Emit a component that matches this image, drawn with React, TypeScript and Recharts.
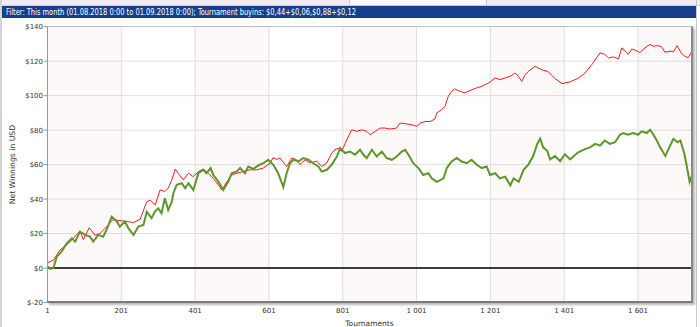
import React from 'react';
import { LineChart, Line, XAxis, YAxis, CartesianGrid, ReferenceArea, ReferenceLine } from 'recharts';

const W = 700;
const H = 327;

const headerText = 'Filter: This month (01.08.2018 0:00 to 01.09.2018 0:00); Tournament buyins: $0,44+$0,06,$0,88+$0,12';
const xAxisTitle = 'Tournaments';
const yAxisTitle = 'Net Winnings in USD';

const xTicks = [1, 201, 401, 601, 801, 1001, 1201, 1401, 1601];
const yTicks = [-20, 0, 20, 40, 60, 80, 100, 120, 140];
const bands = [[1, 201], [401, 601], [801, 1001], [1201, 1401], [1601, 1746]];

const redTournaments = [1, 17, 35, 53, 67, 89, 98, 114, 130, 143, 157, 178, 197, 216, 234, 252, 270, 279, 293, 306,
  319, 328, 338, 347, 355, 369, 383, 396, 410, 423, 437, 450, 464, 473, 487, 500, 514, 532, 550, 568,
  586, 604, 612, 622, 631, 649, 663, 676, 685, 699, 712, 731, 744, 758, 771, 780, 789, 798, 812, 825,
  839, 853, 866, 875, 889, 902, 916, 929, 947, 956, 970, 988, 1002, 1011, 1024, 1038, 1051, 1056, 1069, 1078,
  1087, 1096, 1105, 1119, 1132, 1146, 1164, 1178, 1187, 1200, 1214, 1227, 1241, 1255, 1268, 1277, 1286, 1295, 1304, 1322,
  1341, 1357, 1376, 1395, 1417, 1438, 1457, 1476, 1498, 1511, 1521, 1534, 1548, 1557, 1566, 1575, 1584, 1598, 1606, 1620,
  1633, 1642, 1656, 1665, 1674, 1688, 1697, 1707, 1719, 1728, 1737, 1746];

const redWinnings = [3, 4.6, 10.5, 13.4, 16.3, 21.5, 16.5, 23.4, 19, 20, 23, 28, 27.5, 27, 26.4, 28.3, 38.5, 39.4, 36.6, 45.3,
  44.4, 46.3, 51.2, 57.4, 55, 51.2, 55, 53, 56, 57.4, 55, 52, 48.3, 45.3, 50, 54, 55, 56, 57, 57,
  58, 60.8, 64, 63, 63.8, 58.9, 63.8, 62.8, 60, 62.8, 61, 62, 58.9, 61, 66.7, 68.6, 69.6, 67.6, 74.4, 80.2,
  79.3, 80.2, 79.3, 77.3, 79.3, 81.2, 81.2, 80.6, 81.2, 84.1, 83.7, 83.1, 82.2, 84.1, 85, 85, 86.5, 90, 91.9, 93.8,
  99.6, 102.5, 103.9, 102.5, 101.6, 103, 104.5, 105.4, 106.4, 107.8, 110.3, 109.3, 110.3, 111.2, 113.2, 111.2, 108.3, 112, 114.1, 117,
  115, 114, 110, 107, 108, 110, 113, 118, 124.8, 124, 121.9, 122.5, 121.3, 127.7, 126, 124, 127.1, 126, 125, 127.7,
  129.7, 128.7, 129, 128.3, 125.2, 125.8, 125.4, 129, 124.4, 122.9, 122, 125.2];

const greenTournaments = [1, 8, 17, 26, 39, 53, 67, 76, 89, 103, 116, 125, 139, 152, 161, 175, 189, 197, 211, 220,
  234, 247, 261, 270, 283, 292, 301, 310, 319, 328, 338, 342, 351, 365, 374, 383, 396, 410, 423, 432,
  443, 450, 464, 477, 491, 500, 514, 523, 536, 545, 559, 572, 586, 599, 613, 626, 640, 649, 658, 667,
  681, 694, 708, 721, 735, 744, 758, 771, 785, 794, 807, 821, 834, 848, 857, 866, 880, 893, 907, 920,
  934, 947, 961, 970, 979, 992, 1006, 1019, 1033, 1042, 1056, 1074, 1083, 1096, 1110, 1123, 1137, 1150, 1164, 1178,
  1191, 1200, 1214, 1227, 1241, 1255, 1264, 1278, 1291, 1304, 1317, 1328, 1336, 1344, 1355, 1363, 1376, 1390, 1403, 1417,
  1438, 1457, 1471, 1485, 1498, 1511, 1525, 1539, 1552, 1561, 1574, 1588, 1601, 1611, 1625, 1634, 1643, 1652, 1661, 1675,
  1686, 1697, 1708, 1716, 1727, 1735, 1741, 1746];

const greenWinnings = [1, -0.5, 0, 6.6, 9.5, 14.3, 17.2, 15.3, 21.1, 19.2, 18.2, 15.3, 19.2, 18.2, 22.1, 29.8, 27, 24, 27, 23.1,
  19.2, 24, 25, 32.7, 29, 32.7, 34.6, 31.8, 40.5, 33.6, 38.5, 43.4, 48.3, 49.2, 46.3, 49.2, 45.3, 55, 57, 55,
  58, 54, 50.2, 45.3, 50.2, 55, 56, 58, 55, 58.9, 57.5, 59.5, 60.8, 62.8, 59.9, 55, 47, 55, 60.8, 62.8,
  61.8, 63.8, 62.8, 60.8, 58.9, 56, 57, 59.9, 64.7, 69.6, 66.7, 67.6, 65.7, 68.6, 65.7, 63.8, 68.6, 64.7, 67.6, 63.8,
  62.8, 64.7, 67.6, 68.6, 65.7, 60.8, 58, 54, 55, 52, 50, 52, 58, 61.8, 63.8, 61.8, 60.8, 62.8, 59.9, 58,
  58.9, 54, 55, 52, 53, 48, 52, 50, 57, 60, 65, 72, 75, 70, 68, 63, 65, 62, 66, 63,
  67, 69, 70, 72, 71, 74, 72, 73, 77.3, 78.3, 77.3, 78.3, 77.3, 79.3, 78.3, 80.2, 77.3, 74, 70, 65,
  70, 75, 73, 74, 66, 57, 50, 53];

const fmtX = (n: number) => (n >= 1000 ? `${Math.floor(n / 1000)} ${String(n % 1000).padStart(3, '0')}` : String(n));
const fmtY = (n: number) => `$${n}`;

export default function App() {
  const redData = redTournaments.map((t, i) => ({ t, red: redWinnings[i] }));
  const greenData = greenTournaments.map((t, i) => ({ t, green: greenWinnings[i] }));
  const plotLeft = 47.5;
  const plotTop = 26.7;
  const plotRight = 691.5;
  const plotBottom = 302.5;
  const tickStyle = { fontSize: 7, fill: '#333', fontFamily: 'DejaVu Sans, Verdana, sans-serif' };
  return (
    <div style={{ position: 'absolute', left: 0, top: 0, width: W, height: H, background: '#fff', overflow: 'hidden' }}>
      <div style={{ position: 'absolute', left: 0, top: 0, width: W, height: 6, background: '#eeeeee', borderBottom: '1px solid #d0d0d0', boxSizing: 'border-box' }} />
      <div style={{ position: 'absolute', left: 349, top: 0, width: 138, height: 6, background: '#fafafa', border: '1px solid #c8c8c8', borderTop: 'none', boxSizing: 'border-box' }} />
      <div style={{ position: 'absolute', left: 0, top: 0, width: 2, height: H, background: '#d4d4d4' }} />
      <div style={{ position: 'absolute', left: 696, top: 0, width: 1, height: H, background: '#c8c8c8' }} />
      <svg style={{ position: 'absolute', left: 2, top: 6 }} width={694} height={12}>
        <rect x={0} y={0} width={694} height={12} fill="#163f8c" />
        <text x={4} y={9.2} fill="#ffffff" fontSize={9} fontFamily="'DejaVu Sans Condensed', 'Liberation Sans Narrow', sans-serif" textLength={350} lengthAdjust="spacingAndGlyphs">{headerText}</text>
      </svg>
      <LineChart width={W} height={H} margin={{ top: plotTop, right: W - plotRight, bottom: 0, left: 0 }} style={{ position: 'absolute', left: 0, top: 0 }}>
        {bands.map(([a, b]) => (
          <ReferenceArea key={a} x1={a} x2={b} y1={-20} y2={140} fill="#e05050" fillOpacity={0.035} stroke="none" ifOverflow="hidden" />
        ))}
        <CartesianGrid stroke="#e0e0e0" strokeWidth={1} />
        <XAxis dataKey="t" type="number" domain={[1, 1746]} ticks={xTicks} tickFormatter={fmtX} height={H - plotBottom} tick={tickStyle} tickLine={false} tickSize={4} axisLine={false} interval={0} allowDuplicatedCategory={false}
          label={{ value: xAxisTitle, position: 'insideBottom', offset: 1, style: { fontSize: 7.5, fill: '#333', fontFamily: 'DejaVu Sans, Verdana, sans-serif' } }} />
        <YAxis type="number" domain={[-20, 140]} ticks={yTicks} tickFormatter={fmtY} width={plotLeft} tick={tickStyle} tickSize={4} tickMargin={0.5} axisLine={{ stroke: '#999' }} tickLine={{ stroke: '#999' }} interval={0}
          label={{ value: yAxisTitle, angle: -90, position: 'insideLeft', offset: 12, style: { fontSize: 7.7, fill: '#333', fontFamily: 'DejaVu Sans, Verdana, sans-serif', textAnchor: 'middle' } }} />
        <ReferenceLine y={0} stroke="#000" strokeWidth={1.6} />
        <Line data={redData} type="linear" dataKey="red" stroke="#ff1a1a" strokeWidth={1} dot={false} isAnimationActive={false} />
        <Line data={greenData} type="linear" dataKey="green" stroke="#5f962a" strokeWidth={2} dot={false} isAnimationActive={false} />
      </LineChart>
      <div style={{ position: 'absolute', left: plotLeft - 0.5, top: plotTop - 0.5, width: plotRight - plotLeft + 2, height: plotBottom - plotTop + 1.5, borderTop: '1px solid #c4c4c4', borderRight: '2px solid #8a8a8a', borderBottom: '2px solid #7a7a7a', boxShadow: '2px 2px 2px rgba(0,0,0,0.28)', boxSizing: 'border-box', pointerEvents: 'none' }} />
    </div>
  );
}
